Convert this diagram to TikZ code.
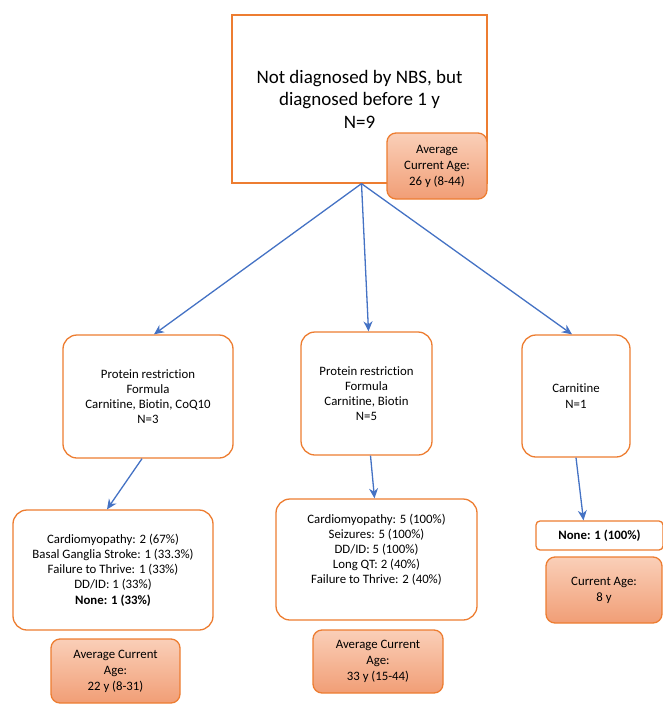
\documentclass[tikz,border=0pt]{standalone}
\usepackage{fontspec}
\setmainfont[Ligatures=NoCommon]{Carlito}
\usetikzlibrary{arrows.meta}

\definecolor{boxline}{RGB}{237,125,49}
\definecolor{agetop}{RGB}{250,207,184}
\definecolor{agebot}{RGB}{241,158,118}
\definecolor{arrowblue}{RGB}{68,114,196}

\begin{document}
\begin{tikzpicture}[x=1pt, y=-1pt,
    every node/.style={draw=boxline, line width=1.3pt, align=center, inner sep=2pt},
    plainbox/.style={rounded corners=14pt, fill=white},
    agebox/.style={rounded corners=9pt, top color=agetop, bottom color=agebot,
        font=\fontsize{12.8}{16}\selectfont},
    small/.style={font=\fontsize{12.8}{15.2}\selectfont},
    arr/.style={-{Stealth[length=10pt, width=9pt]}, draw=arrowblue, line width=1.3pt}]

    % page size
    \useasboundingbox (0,0) rectangle (662,704);

    % --- top box ---
    \node[fill=white, minimum width=255pt, minimum height=168pt,
        font=\fontsize{19}{22.5}\selectfont] (top) at (359.5,99)
        {Not diagnosed by NBS, but\\diagnosed before 1 y\\N=9};
    \node[agebox, minimum width=100pt, minimum height=66pt] (age0) at (437,166)
        {Average\\Current Age:\\26 y (8-44)};

    % --- treatment groups ---
    \node[plainbox, small, minimum width=170pt, minimum height=123pt] (pL) at (148,396.5)
        {Protein restriction\\Formula\\Carnitine, Biotin, CoQ10\\N=3};
    \node[plainbox, small, minimum width=131pt, minimum height=123pt] (pM) at (366.5,393.5)
        {Protein restriction\\Formula\\Carnitine, Biotin\\N=5};
    \node[plainbox, small, minimum width=108pt, minimum height=122pt] (pR) at (576,396)
        {Carnitine\\N=1};

    % --- outcomes ---
    \node[plainbox, small, minimum width=200pt, minimum height=120pt] (oL) at (113,570)
        {Cardiomyopathy: 2 (67\%)\\Basal Ganglia Stroke: 1 (33.3\%)\\Failure to Thrive: 1 (33\%)\\DD/ID: 1 (33\%)\\\textbf{None: 1 (33\%)}};
    \node[plainbox, small, minimum width=201pt, minimum height=121pt] (oM) at (376.5,559.5)
        {Cardiomyopathy: 5 (100\%)\\Seizures: 5 (100\%)\\DD/ID: 5 (100\%)\\Long QT: 2 (40\%)\\Failure to Thrive: 2 (40\%)\\[6pt]};
    \node[plainbox, small, rounded corners=4pt, minimum width=127pt, minimum height=29pt] (oR) at (599.5,535.5)
        {\textbf{None: 1 (100\%)}};

    % --- current ages ---
    \node[agebox, minimum width=129pt, minimum height=64pt] (ageL) at (115.5,671)
        {Average Current\\Age:\\22 y (8-31)};
    \node[agebox, minimum width=130pt, minimum height=63pt] (ageM) at (378,661.5)
        {Average Current\\Age:\\33 y (15-44)};
    \node[agebox, minimum width=116pt, minimum height=66pt] (ageR) at (604,590)
        {Current Age:\\8 y};

    % --- arrows ---
    \draw[arr] ([xshift=2pt]top.south) -- ([xshift=6pt]pL.north);
    \draw[arr] ([xshift=2pt]top.south) -- ([xshift=2pt]pM.north);
    \draw[arr] ([xshift=2pt]top.south) -- ([xshift=-4pt]pR.north);
    \draw[arr] ([xshift=-6pt]pL.south) -- ([xshift=-6pt]oL.north);
    \draw[arr] ([xshift=4pt]pM.south) -- ([xshift=-2pt]oM.north);
    \draw[arr] (pR.south) -- ([xshift=-16pt]oR.north);

\end{tikzpicture}
\end{document}
